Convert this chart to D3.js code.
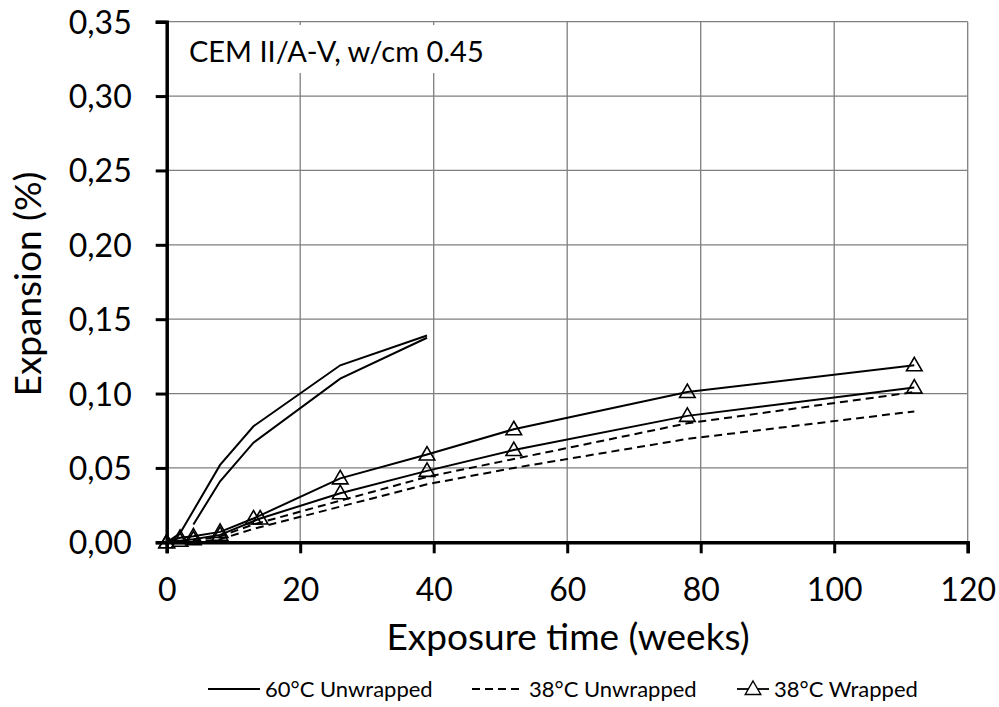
<!DOCTYPE html>
<html>
<head>
<meta charset="utf-8">
<script src="https://cdn.jsdelivr.net/npm/d3@7"></script>
<style>
  body { margin: 0; background: #fff; }
  svg { font-family: Lato, "Open Sans", sans-serif; }
</style>
</head>
<body>
<svg id="chart" width="999" height="707"></svg>
<script>
//-----------------------------------------------------//
// Data

const xTicks = [0, 20, 40, 60, 80, 100, 120];
const yTicks = [0, 0.05, 0.10, 0.15, 0.20, 0.25, 0.30, 0.35];

// 60°C unwrapped (two specimens, solid, no markers)
const weeks60a = [0, 2, 8, 13, 26, 39];
const exp60a   = [0, 0.006, 0.052, 0.078, 0.119, 0.139];
const weeks60b = [4, 8, 13, 26, 39];
const exp60b   = [0.012, 0.041, 0.067, 0.110, 0.1375];

// 38°C unwrapped (two specimens, dashed)
const weeks38u = [0, 4, 8, 13, 26, 39, 52, 78, 112];
const exp38ua  = [0, 0.001, 0.004, 0.012, 0.028, 0.044, 0.056, 0.080, 0.101];
const exp38ub  = [0, 0, 0.002, 0.009, 0.024, 0.039, 0.050, 0.0695, 0.088];

// 38°C wrapped (two specimens, solid with triangles)
const weeks38wa = [0, 2, 4, 8, 13, 26, 39, 52, 78, 112];
const exp38wa   = [0, 0.003, 0.004, 0.007, 0.016, 0.043, 0.059, 0.076, 0.101, 0.119];
const weeks38wb = [0, 2, 4, 8, 14, 26, 39, 52, 78, 112];
const exp38wb   = [0, 0.001, 0.002, 0.005, 0.016, 0.033, 0.048, 0.062, 0.085, 0.104];

const legendLabels = ["60°C Unwrapped", "38°C Unwrapped", "38°C Wrapped"];

//-----------------------------------------------------//

const svg = d3.select("#chart");
const plotLeft = 166.7, plotRight = 967.7, plotTop = 21.7, plotBottom = 542.3;

const x = d3.scaleLinear().domain([0, 120]).range([plotLeft, plotRight]);
const y = d3.scaleLinear().domain([0, 0.35]).range([plotBottom, plotTop]);

const fmt = d => d3.format(".2f")(d).replace(".", ",");

// gridlines
svg.append("g").selectAll("line")
  .data(yTicks.slice(1))
  .enter().append("line")
  .attr("x1", plotLeft).attr("x2", plotRight)
  .attr("y1", d => y(d)).attr("y2", d => y(d))
  .attr("stroke", "#7f7f7f").attr("stroke-width", 1.3);

svg.append("g").selectAll("line")
  .data(xTicks.slice(1))
  .enter().append("line")
  .attr("x1", d => x(d)).attr("x2", d => x(d))
  .attr("y1", plotTop).attr("y2", plotBottom)
  .attr("stroke", "#7f7f7f").attr("stroke-width", 1.3);

// annotation box (white background hides the grid)
svg.append("rect")
  .attr("x", 176).attr("y", 25).attr("width", 324).attr("height", 48)
  .attr("fill", "#fff");
svg.append("text")
  .attr("x", 189).attr("y", 62)
  .attr("font-size", 29)
  .text("CEM II/A-V, w/cm 0.45");

// axes
const yAxis = d3.axisLeft(y).tickValues(yTicks).tickFormat(fmt).tickSize(11).tickPadding(24);
const xAxis = d3.axisBottom(x).tickValues(xTicks).tickFormat(d3.format("d")).tickSize(11).tickPadding(25);

const gy = svg.append("g").attr("transform", `translate(${plotLeft},0)`).call(yAxis);
const gx = svg.append("g").attr("transform", `translate(0,${plotBottom})`).call(xAxis);

[gx, gy].forEach(g => {
  g.select(".domain").attr("stroke", "#000").attr("stroke-width", 3.5);
  g.selectAll(".tick line").attr("stroke", "#000").attr("stroke-width", 3);
  g.selectAll(".tick text").attr("fill", "#000")
    .attr("font-family", "Lato, sans-serif").attr("font-size", 32);
});
gy.selectAll(".tick text").attr("dy", "0.36em");

// axis titles
svg.append("text")
  .attr("x", 568).attr("y", 650)
  .attr("text-anchor", "middle")
  .attr("font-size", 37)
  .text("Exposure time (weeks)");

svg.append("text")
  .attr("transform", "translate(41,284) rotate(-90)")
  .attr("text-anchor", "middle")
  .attr("font-size", 37)
  .text("Expansion (%)");

// series
const line = d3.line().x(d => x(d[0])).y(d => y(d[1]));
const zip = (a, b) => a.map((v, i) => [v, b[i]]);

const series = [
  { pts: zip(weeks60a, exp60a), dash: null, marker: false },
  { pts: zip(weeks60b, exp60b), dash: null, marker: false },
  { pts: zip(weeks38u, exp38ua), dash: "8,5", marker: false },
  { pts: zip(weeks38u, exp38ub), dash: "8,5", marker: false },
  { pts: zip(weeks38wa, exp38wa), dash: null, marker: true },
  { pts: zip(weeks38wb, exp38wb), dash: null, marker: true }
];

const plot = svg.append("g");
series.forEach(s => {
  plot.append("path")
    .attr("d", line(s.pts))
    .attr("fill", "none")
    .attr("stroke", "#000")
    .attr("stroke-width", 2)
    .attr("stroke-dasharray", s.dash);
});

const tri = d3.symbol().type(d3.symbolTriangle).size(105);
series.filter(s => s.marker).forEach(s => {
  plot.selectAll(null)
    .data(s.pts)
    .enter().append("path")
    .attr("d", tri)
    .attr("transform", d => `translate(${x(d[0])},${y(d[1]) + 1})`)
    .attr("fill", "none")
    .attr("stroke", "#000")
    .attr("stroke-width", 1.6);
});

// legend
const legend = svg.append("g").attr("transform", "translate(0,697)");
const legendX = [208, 472, 737];
const legendW = [52, 52, 32];
legendLabels.forEach((lab, i) => {
  const g = legend.append("g").attr("transform", `translate(${legendX[i]},0)`);
  g.append("line")
    .attr("x1", 0).attr("x2", legendW[i]).attr("y1", -8).attr("y2", -8)
    .attr("stroke", "#000").attr("stroke-width", 1.8)
    .attr("stroke-dasharray", i === 1 ? "8,5" : null);
  if (i === 2) {
    g.append("path").attr("d", tri)
      .attr("transform", `translate(${legendW[i] / 2},-7)`)
      .attr("fill", "#fff").attr("stroke", "#000").attr("stroke-width", 1.4);
  }
  g.append("text")
    .attr("x", legendW[i] + 5).attr("y", 0)
    .attr("font-size", 22)
    .text(lab);
});
</script>
</body>
</html>
